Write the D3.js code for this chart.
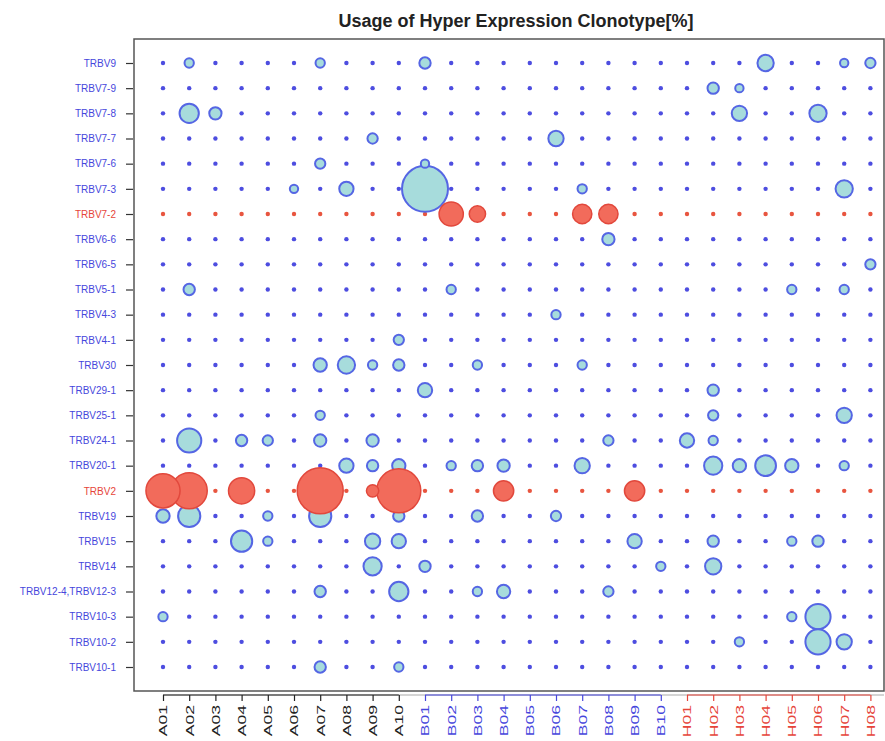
<!DOCTYPE html>
<html><head><meta charset="utf-8">
<script src="https://cdn.jsdelivr.net/npm/d3@7"></script>
<style>body{margin:0;background:#fff}</style>
</head><body>
<svg id="chart" width="885" height="741"></svg>
<script>
const columns = ["A01","A02","A03","A04","A05","A06","A07","A08","A09","A10",
                 "B01","B02","B03","B04","B05","B06","B07","B08","B09","B10",
                 "H01","H02","H03","H04","H05","H06","H07","H08"];
const columnGroups = ["A","B","H"];
const rows = ["TRBV9","TRBV7-9","TRBV7-8","TRBV7-7","TRBV7-6","TRBV7-3","TRBV7-2","TRBV6-6","TRBV6-5",
              "TRBV5-1","TRBV4-3","TRBV4-1","TRBV30","TRBV29-1","TRBV25-1","TRBV24-1","TRBV20-1","TRBV2",
              "TRBV19","TRBV15","TRBV14","TRBV12-4,TRBV12-3","TRBV10-3","TRBV10-2","TRBV10-1"];
const highlightRows = ["TRBV7-2","TRBV2"];
const title = "Usage of Hyper Expression Clonotype[%]";
// usage [%] per row: A01..A10 | B01..B10 | H01..H08
const usage = [
  [0,.14,0,0,0,0,.14,0,0,0,   .28,0,0,0,0,0,0,0,0,0,     0,0,0,.82,0,0,.09,.2],
  [0,0,0,0,0,0,0,0,0,0,       0,0,0,0,0,0,0,0,0,0,       0,.28,.09,0,0,0,0,0],
  [0,1.28,.36,0,0,0,0,0,0,0,  0,0,0,0,0,0,0,0,0,0,       0,0,.69,0,0,.96,0,0],
  [0,0,0,0,0,0,0,0,.2,0,      0,0,0,0,0,.69,0,0,0,0,     0,0,0,0,0,0,0,0],
  [0,0,0,0,0,0,.2,0,0,0,      .09,0,0,0,0,0,0,0,0,0,     0,0,0,0,0,0,0,0],
  [0,0,0,0,0,.09,0,.57,0,0,   10,0,0,0,0,0,.14,0,0,0,    0,0,0,0,0,0,.96,0],
  [0,0,0,0,0,0,0,0,0,0,       0,2.27,.82,0,0,0,1.28,1.28,0,0, 0,0,0,0,0,0,0,0],
  [0,0,0,0,0,0,0,0,0,0,       0,0,0,0,0,0,0,.36,0,0,     0,0,0,0,0,0,0,0],
  [0,0,0,0,0,0,0,0,0,0,       0,0,0,0,0,0,0,0,0,0,       0,0,0,0,0,0,0,.2],
  [0,.28,0,0,0,0,0,0,0,0,     0,.14,0,0,0,0,0,0,0,0,     0,0,0,0,.14,0,.14,0],
  [0,0,0,0,0,0,0,0,0,0,       0,0,0,0,0,.14,0,0,0,0,     0,0,0,0,0,0,0,0],
  [0,0,0,0,0,0,0,0,0,.2,      0,0,0,0,0,0,0,0,0,0,       0,0,0,0,0,0,0,0],
  [0,0,0,0,0,0,.46,.96,.14,.28, 0,0,.14,0,0,0,.14,0,0,0,  0,0,0,0,0,0,0,0],
  [0,0,0,0,0,0,0,0,0,0,       .57,0,0,0,0,0,0,0,0,0,     0,.28,0,0,0,0,0,0],
  [0,0,0,0,0,0,.14,0,0,0,     0,0,0,0,0,0,0,0,0,0,       0,.2,0,0,0,0,.69,0],
  [0,2.27,0,.28,.2,0,.36,0,.36,0, 0,0,0,0,0,0,0,.2,0,0,  .57,.14,0,0,0,0,0,0],
  [0,0,0,0,0,0,0,.57,.28,.46, 0,.14,.28,.36,0,0,.69,0,0,0, 0,1.11,.46,1.55,.46,0,.14,0],
  [5.1,5.8,0,2.74,0,0,10,0,.36,9.07, 0,0,0,1.45,0,0,0,0,1.45,0, 0,0,0,0,0,0,0,0],
  [.46,1.84,0,0,.14,0,1.84,0,0,.28, 0,0,.28,0,0,.2,0,0,0,0, 0,0,0,0,0,0,0,0],
  [0,0,0,1.64,.14,0,0,0,.69,.57, 0,0,0,0,0,0,0,0,.57,0,   0,.28,0,0,.14,.28,0,0],
  [0,0,0,0,0,0,0,0,1.11,0,    .28,0,0,0,0,0,0,0,0,.14,   0,.82,0,0,0,0,0,0],
  [0,0,0,0,0,0,.28,0,0,1.28,  0,0,.14,.46,0,0,0,.2,0,0,  0,0,0,0,0,0,0,0],
  [.14,0,0,0,0,0,0,0,0,0,     0,0,0,0,0,0,0,0,0,0,       0,0,0,0,.14,2.5,0,0],
  [0,0,0,0,0,0,0,0,0,0,       0,0,0,0,0,0,0,0,0,0,       0,0,.14,0,0,2.5,.69,0],
  [0,0,0,0,0,0,.28,0,0,.14,   0,0,0,0,0,0,0,0,0,0,       0,0,0,0,0,0,0,0]
];

const BLUE = "#4646dc", RED = "#e6453a", BLACK = "#222";
const groupColor = {A: BLACK, B: BLUE, H: RED};

const svg = d3.select("#chart");
const box = {left: 134, top: 39, right: 884, bottom: 691};

const x = d3.scalePoint().domain(columns).range([163, 870.4]);
const y = d3.scalePoint().domain(rows).range([63, 667]);
const r = d3.scaleSqrt().domain([0, 10]).range([2.2, 23]);

// title
svg.append("text").attr("x", 516).attr("y", 27).attr("text-anchor", "middle")
  .attr("font-family", "Liberation Sans, Arial, sans-serif").attr("font-weight", "bold")
  .attr("font-size", 18).attr("fill", "#222").text(title);

// box
svg.append("rect").attr("x", box.left).attr("y", box.top)
  .attr("width", box.right - box.left).attr("height", box.bottom - box.top)
  .attr("fill", "#fff").attr("stroke", "#555").attr("stroke-width", 1.5);

// data
const cells = [];
rows.forEach((row, i) => columns.forEach((col, j) => {
  cells.push({row, col, v: usage[i][j], hi: highlightRows.includes(row)});
}));

const g = svg.append("g");
// small dots (zero values)
g.selectAll("circle.dot").data(cells.filter(d => d.v === 0)).join("circle")
  .attr("class", "dot").attr("cx", d => x(d.col)).attr("cy", d => y(d.row))
  .attr("r", r(0)).attr("fill", d => d.hi ? "#e8553f" : "#4d4de0");
// blue bubbles
g.selectAll("circle.bb").data(cells.filter(d => d.v > 0 && !d.hi).sort((a, b) => b.v - a.v)).join("circle")
  .attr("class", "bb").attr("cx", d => x(d.col)).attr("cy", d => y(d.row))
  .attr("r", d => r(d.v)).attr("fill", "#a7dcdc").attr("stroke", "#5566e4").attr("stroke-width", 2);
// red bubbles
g.selectAll("circle.rb").data(cells.filter(d => d.v > 0 && d.hi).sort((a, b) => b.v - a.v)).join("circle")
  .attr("class", "rb").attr("cx", d => x(d.col)).attr("cy", d => y(d.row))
  .attr("r", d => r(d.v)).attr("fill", "#f26b5b").attr("stroke", "#e2483c").attr("stroke-width", 1.5);

// y axis
const yAxis = svg.append("g").attr("transform", `translate(${box.left - 1},0)`)
  .call(d3.axisLeft(y).tickSize(7).tickPadding(10));
yAxis.select(".domain").remove();
yAxis.selectAll(".tick line").attr("stroke", "#333").attr("stroke-width", 1.2);
yAxis.selectAll(".tick text").attr("font-family", "Liberation Sans, Arial, sans-serif")
  .attr("font-size", 10).attr("fill", d => highlightRows.includes(d) ? RED : BLUE);

// x axis
const axisY = 695;
svg.append("line").attr("x1", x(columns[0])).attr("x2", box.right).attr("y1", axisY).attr("y2", axisY)
  .attr("stroke", "#aaa").attr("stroke-width", 1.2);
columnGroups.forEach(gr => {
  const cols = columns.filter(c => c[0] === gr);
  svg.append("line").attr("x1", x(cols[0])).attr("x2", x(cols[cols.length - 1]))
    .attr("y1", axisY).attr("y2", axisY).attr("stroke", groupColor[gr]).attr("stroke-width", 1.2);
});
const xAxis = svg.append("g").attr("transform", `translate(0,${axisY})`)
  .call(d3.axisBottom(x).tickSize(6).tickPadding(4));
xAxis.select(".domain").remove();
xAxis.selectAll(".tick line").attr("stroke", d => groupColor[d[0]]).attr("stroke-width", 1.2);
xAxis.selectAll(".tick text")
  .attr("font-family", "Liberation Sans, Arial, sans-serif").attr("font-size", 11)
  .attr("fill", d => groupColor[d[0]])
  .attr("y", 0).attr("x", -10 / 1.6).attr("dy", "0.35em")
  .attr("transform", "rotate(-90) scale(1.6,1)").style("text-anchor", "end");
</script>
</body></html>
